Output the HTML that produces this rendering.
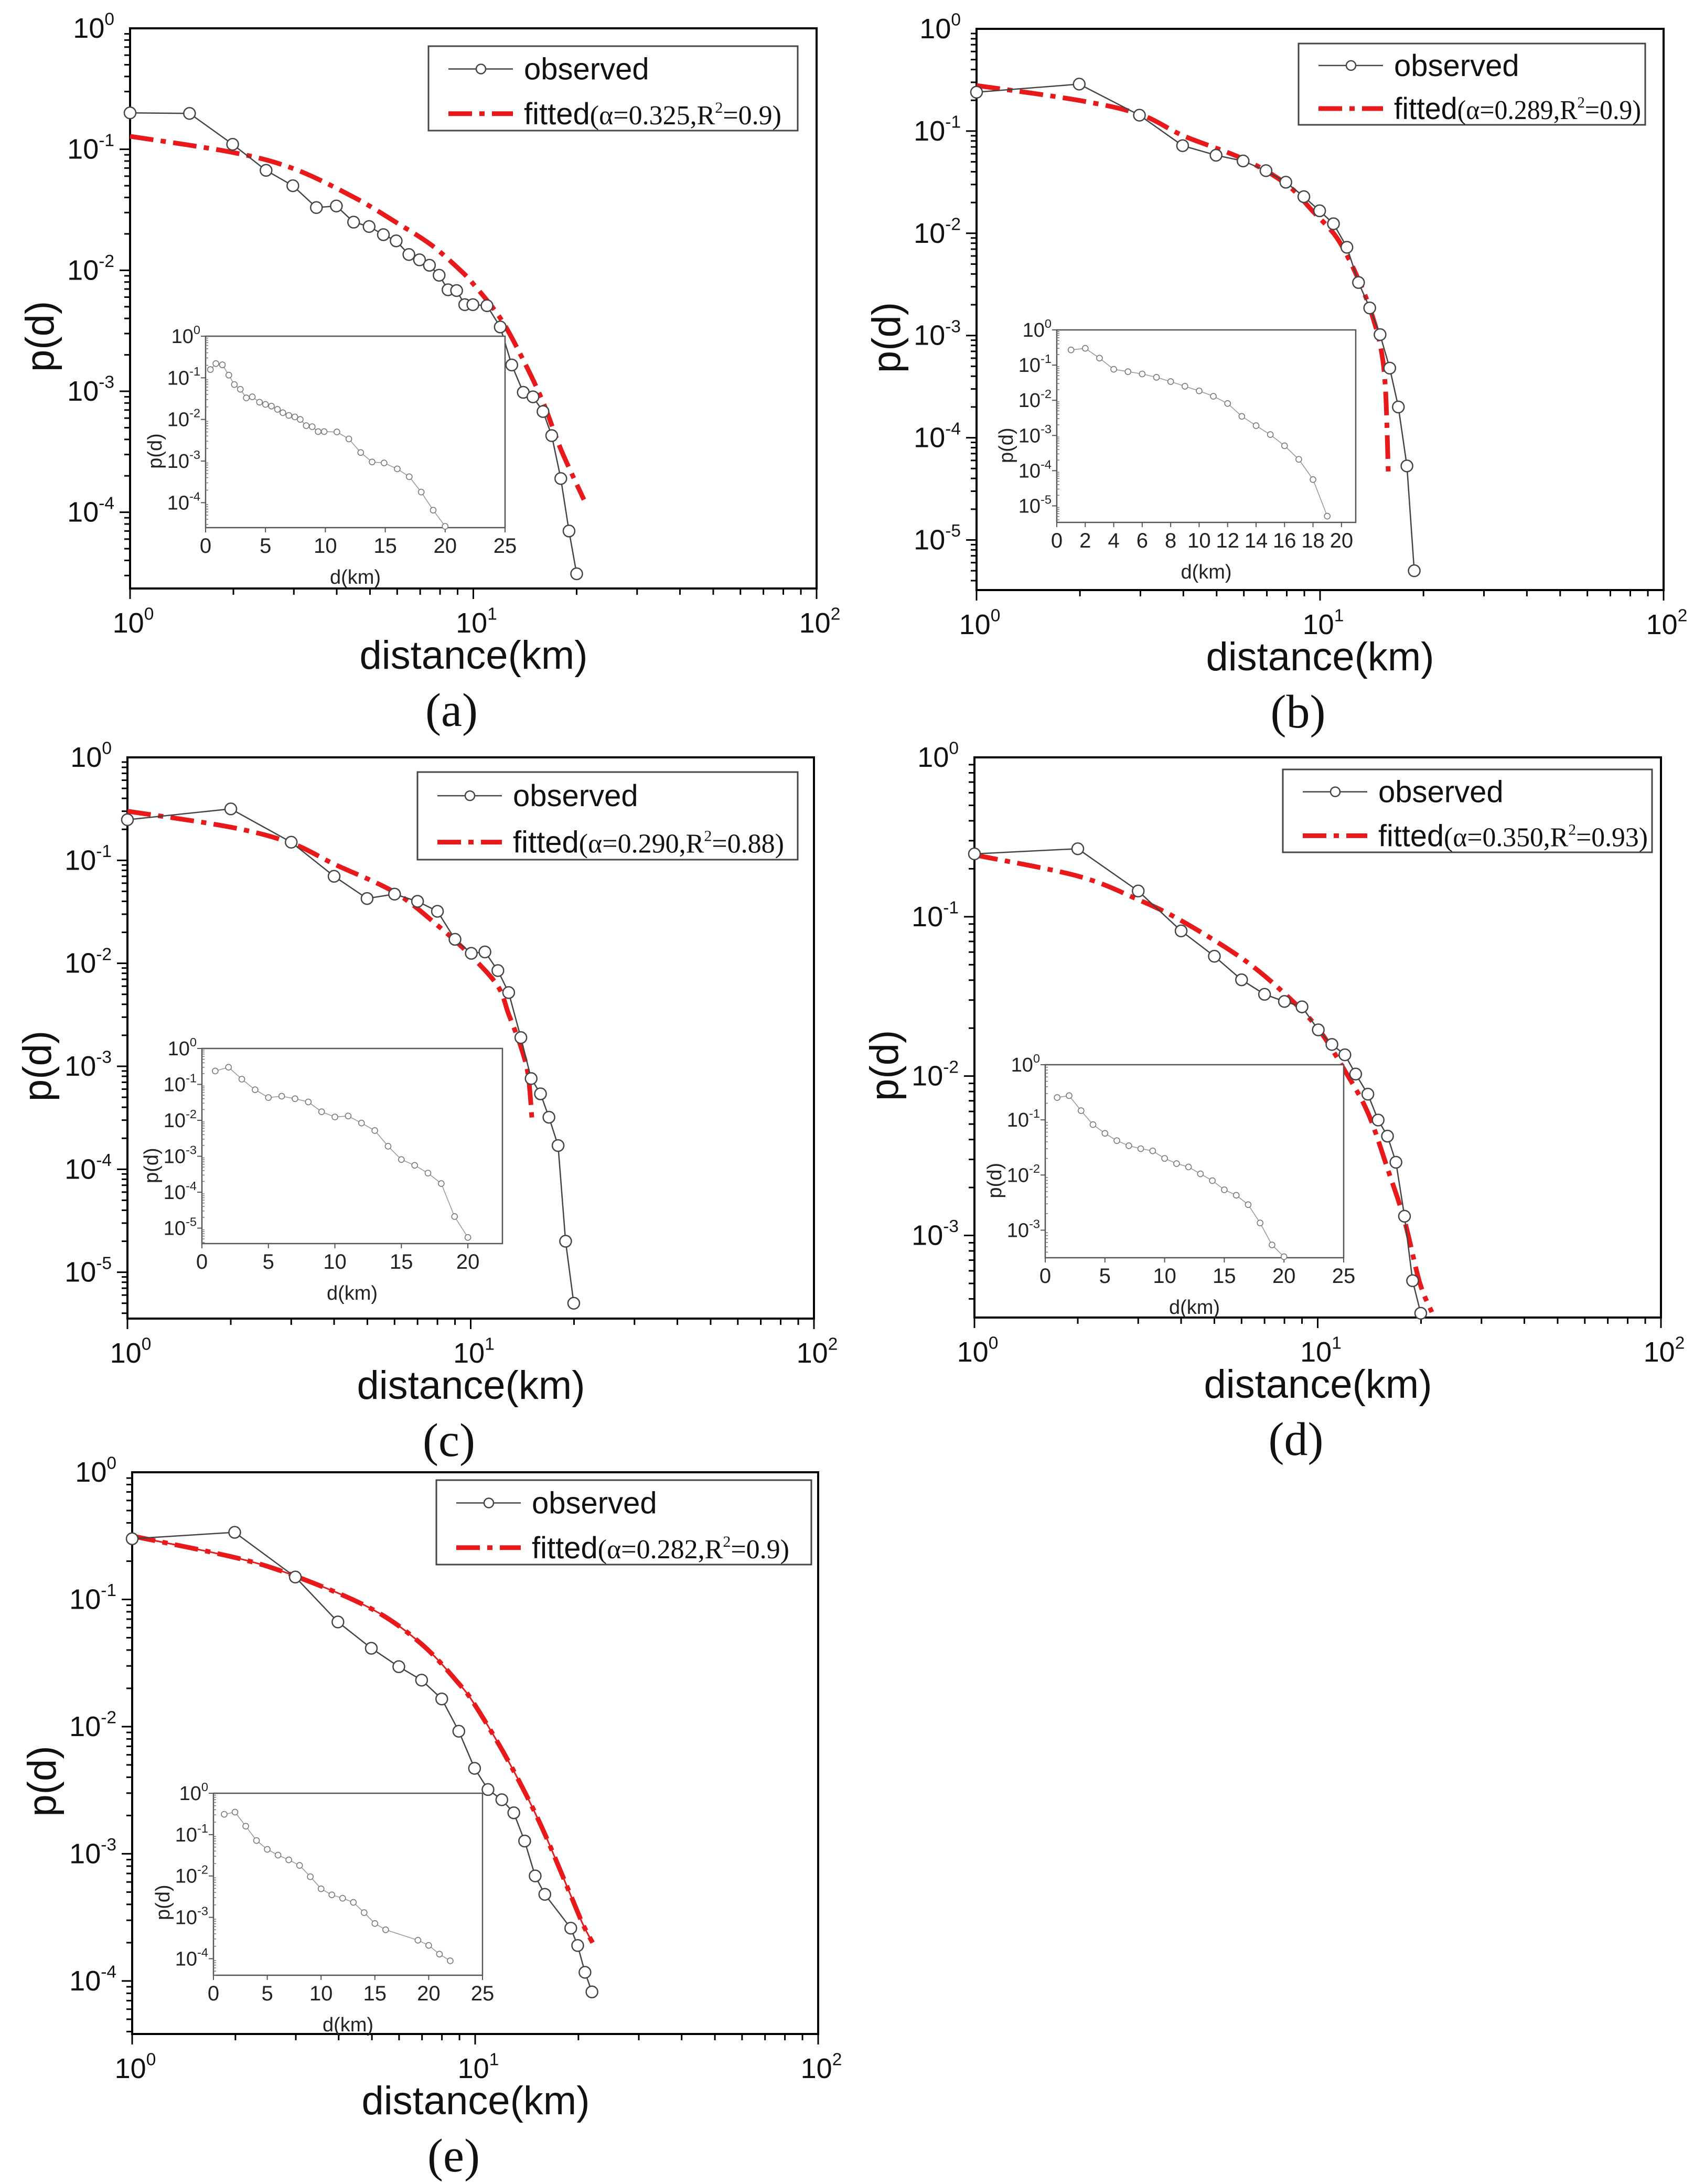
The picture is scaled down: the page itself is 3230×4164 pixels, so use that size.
<!DOCTYPE html>
<html><head><meta charset="utf-8"><style>
html,body{margin:0;padding:0;background:#fff;}
svg{display:block;}
</style></head><body>
<svg id="fig" width="3230" height="4164" viewBox="0 0 3230 4164" xmlns="http://www.w3.org/2000/svg"></svg>
<script>
// ---- data (per panel) ----
const obsXA=[1,1.49,1.99,2.49,2.98,3.49,3.99,4.48,4.97,5.47,5.96,6.49,6.97,7.45,7.95,8.44,8.94,9.44,9.97,10.96,11.98,12.94,13.98,14.92,15.96,16.92,17.98,19.0,20.0];
const obsYA=[0.2,0.198,0.11,0.067,0.05,0.033,0.034,0.025,0.023,0.0197,0.0175,0.0135,0.0122,0.011,0.0091,0.0069,0.0068,0.0052,0.0052,0.0051,0.0034,0.00165,0.00098,0.0009,0.00068,0.00043,0.00019,7e-5,3.1e-5];
const fitXA=[1,2,3,4.5,6,7.5,9,10,12,14,16,18,21];
const fitYA=[0.128,0.094,0.069,0.040,0.0246,0.0164,0.0105,0.0077,0.004,0.0018,0.0008,0.00033,0.000127];
const insXA=[0.4,0.86,1.4,1.94,2.4,2.9,3.4,3.9,4.5,5.0,5.5,6.0,6.45,6.95,7.45,7.9,8.4,8.9,9.4,9.9,10.96,11.96,12.95,13.9,14.9,16,17,18,19,20];
const insYA=[0.158,0.22,0.205,0.116,0.069,0.053,0.033,0.035,0.026,0.023,0.0209,0.0175,0.0145,0.0125,0.0115,0.01,0.0071,0.0067,0.0051,0.0051,0.005,0.0034,0.0016,0.00095,0.0009,0.00065,0.00042,0.00018,6.6e-5,2.7e-5];

const obsXB=[1,1.99,2.98,3.98,4.98,5.97,6.96,7.95,8.97,9.97,10.94,11.97,12.94,13.95,14.95,15.95,16.9,17.9,18.8];
const obsYB=[0.24,0.288,0.143,0.072,0.058,0.051,0.041,0.0316,0.0228,0.0166,0.0124,0.0073,0.0033,0.00186,0.00102,0.00048,0.0002,5.3e-5,5e-6];
const fitXB=[1,2,3,4,6,8,9.5,11,12,13,14,15,15.5,15.8];
const fitYB=[0.279,0.199,0.145,0.09,0.053,0.03,0.0166,0.0098,0.006,0.0034,0.0018,0.00078,0.0003,4.5e-5];
const insXB=[1,2,3,4,5,6,7,8,9,10,11,12,13,14,15,16,17,18,19];
const insYB=[0.27,0.30,0.158,0.076,0.065,0.056,0.045,0.034,0.025,0.0185,0.013,0.0081,0.0035,0.0019,0.00106,0.00051,0.00021,5.6e-5,5.1e-6];

const obsXC=[1,2,3,4,4.99,6,7,8,9,10.04,11,12,12.9,14,15,15.97,16.9,17.97,18.9,19.96];
const obsYC=[0.248,0.316,0.15,0.07,0.0426,0.047,0.04,0.032,0.0171,0.0125,0.0129,0.0085,0.0052,0.0019,0.00076,0.00054,0.00032,0.00017,2e-5,5e-6];
const fitXC=[1,2,3,4,6,8,10,12,12.9,14,14.7,15.1];
const fitYC=[0.30,0.21,0.147,0.092,0.049,0.0234,0.0119,0.006,0.0032,0.00155,0.00082,0.00029];
const insXC=[1,2,3,4,5,6,7,8,9,10,11,12,13,14,15,16,17,18,19,20];
const insYC=[0.236,0.30,0.14,0.071,0.043,0.047,0.040,0.0325,0.0173,0.0124,0.0132,0.0084,0.0052,0.0019,0.00081,0.00056,0.00034,0.000174,2.1e-5,5.5e-6];

const obsXD=[1,2,3,4,5,6,7,8,9,10.04,11,12,12.9,14,15,15.97,16.9,17.9,18.9,19.96];
const obsYD=[0.248,0.267,0.145,0.0815,0.0565,0.0402,0.0326,0.0294,0.0272,0.0195,0.0158,0.0136,0.0103,0.0077,0.0053,0.0042,0.00288,0.00132,0.00052,0.000325];
const fitXD=[1,2,3,4,6,8,10,12,14,16,17.9,19.8,21.5];
const fitYD=[0.244,0.18,0.128,0.0946,0.055,0.033,0.02,0.0108,0.0059,0.0026,0.00124,0.00051,0.00033];
const insXD=[1,2,3,4,5,6,7,8,9,10,11,12,13,14,15,16,17,18,19,20];
const insYD=[0.254,0.275,0.147,0.082,0.057,0.042,0.034,0.030,0.0274,0.02,0.0161,0.014,0.0105,0.0079,0.0054,0.0043,0.0029,0.00135,0.00054,0.00033];

const obsXE=[1,1.99,2.99,3.98,4.98,5.99,6.98,7.99,8.96,9.96,10.9,11.96,12.96,13.94,14.96,15.96,19.0,19.9,20.9,21.9];
const obsYE=[0.30,0.337,0.150,0.0665,0.0413,0.0296,0.0232,0.0165,0.0092,0.0047,0.0032,0.00266,0.0021,0.00126,0.00067,0.00048,0.00026,0.00019,0.000117,8.2e-5];
const fitXE=[1,2,3,5,7,9,10,12,14,16,19,20.6,22];
const fitYE=[0.315,0.213,0.152,0.084,0.0442,0.0215,0.0147,0.0065,0.003,0.00141,0.00047,0.00028,0.0002];
const insXE=[1,2,3,4,5,6,7,8,9,10,11,12,13,14,15,16,19,20,21,22];
const insYE=[0.31,0.35,0.16,0.072,0.044,0.032,0.0245,0.018,0.0096,0.0049,0.0035,0.0029,0.0023,0.0013,0.00071,0.0005,0.00028,0.00021,0.000129,8.9e-5];

const panelLetters=['a','b','c','d','e'];
const alphaTexts=['0.325','0.289','0.290','0.350','0.282'];
const r2Texts=['0.9','0.9','0.88','0.93','0.9'];
const mainYExps=[[0,-1,-2,-3,-4],[0,-1,-2,-3,-4,-5],[0,-1,-2,-3,-4,-5],[0,-1,-2,-3],[0,-1,-2,-3,-4]];
const mainXExps=[0,1,2];
const insYExps=[[0,-1,-2,-3,-4],[0,-1,-2,-3,-4,-5],[0,-1,-2,-3,-4,-5],[0,-1,-2,-3],[0,-1,-2,-3,-4]];
const insXTicks=[[0,5,10,15,20,25],[0,2,4,6,8,10,12,14,16,18,20],[0,5,10,15,20],[0,5,10,15,20,25],[0,5,10,15,20,25]];

// ---- layout (not data) ----
const L=[
 {box:[248,54,1309,1068],ybot:-4.63,ins:[392,641,571,365],ixmax:25,iybot:-4.6,leg:[817,88,704,161]},
 {box:[1862,55,1310,1070],ybot:-5.49,ins:[2015,629,570,367],ixmax:21,iybot:-5.47,leg:[2476,83,661,155]},
 {box:[243,1444,1309,1070],ybot:-5.45,ins:[385,1999,573,372],ixmax:22.6,iybot:-5.43,leg:[796,1472,725,167]},
 {box:[1858,1444,1309,1068],ybot:-3.515,ins:[1993,2030,569,368],ixmax:25,iybot:-3.5,leg:[2446,1467,704,158]},
 {box:[252,2807,1308,1071],ybot:-4.417,ins:[407,3419,513,347],ixmax:25,iybot:-4.4,leg:[832,2822,715,161]}
];
const series=[
 [obsXA,obsYA,fitXA,fitYA,insXA,insYA],
 [obsXB,obsYB,fitXB,fitYB,insXB,insYB],
 [obsXC,obsYC,fitXC,fitYC,insXC,insYC],
 [obsXD,obsYD,fitXD,fitYD,insXD,insYD],
 [obsXE,obsYE,fitXE,fitYE,insXE,insYE]
];

const NS='http://www.w3.org/2000/svg';
const svg=document.getElementById('fig');
function mk(tag,attrs,parent){const e=document.createElementNS(NS,tag);for(const k in attrs)e.setAttribute(k,attrs[k]);(parent||svg).appendChild(e);return e;}
const SANS='"Liberation Sans", Arial, sans-serif';
const SERIF='"Liberation Serif", "Times New Roman", serif';

function powLabel(g,x,y,exp,size,anchor){
  const t=mk('text',{x:x,y:y,'font-family':SANS,'font-size':size,'text-anchor':anchor,fill:'#111'},g);
  t.appendChild(document.createTextNode('10'));
  const s=mk('tspan',{dy:-size*0.45,'font-size':size*0.62},t);
  s.textContent=String(exp);
  return t;
}
function smoothPath(P){
  let d='M'+P[0][0].toFixed(1)+','+P[0][1].toFixed(1);
  for(let k=0;k<P.length-1;k++){
    const p0=P[Math.max(0,k-1)],p1=P[k],p2=P[k+1],p3=P[Math.min(P.length-1,k+2)];
    const c1=[p1[0]+(p2[0]-p0[0])/6,p1[1]+(p2[1]-p0[1])/6];
    const c2=[p2[0]-(p3[0]-p1[0])/6,p2[1]-(p3[1]-p1[1])/6];
    d+=' C'+c1[0].toFixed(1)+','+c1[1].toFixed(1)+' '+c2[0].toFixed(1)+','+c2[1].toFixed(1)+' '+p2[0].toFixed(1)+','+p2[1].toFixed(1);
  }
  return d;
}

series.forEach((S,i)=>{
  const cfg=L[i];
  const [bx,by,bw,bh]=cfg.box;
  const g=mk('g',{});
  
  
  const xs=v=>bx+Math.log10(v)/2*bw;
  const ys=v=>by+(-Math.log10(v))/(-cfg.ybot)*bh;
  const frame=mk('rect',{x:bx,y:by,width:bw,height:bh,fill:'none',stroke:'#000','stroke-width':4},g);
  
  
  for(let d=0;d>Math.floor(cfg.ybot)-1;d--){
    for(let k=1;k<10;k++){
      const v=k*Math.pow(10,d-1);
      const lv=Math.log10(v);
      if(lv>0.0001||lv<cfg.ybot)continue;
      const y=ys(v);
      mk('line',{x1:bx,x2:bx-(k===1?20:11),y1:y,y2:y,stroke:'#000','stroke-width':3},g);
    }
  }
  mainYExps[i].forEach(e=>{
    const y=ys(Math.pow(10,e));
    const t=powLabel(g,bx-30,y+18,e,54,'end');
    
    
  });
  for(let d=0;d<2;d++){for(let k=1;k<10;k++){const v=k*Math.pow(10,d);const x=xs(v);mk('line',{x1:x,x2:x,y1:by+bh,y2:by+bh+(k===1?20:12),stroke:'#000','stroke-width':3},g);}}
  mk('line',{x1:bx+bw,x2:bx+bw,y1:by+bh,y2:by+bh+20,stroke:'#000','stroke-width':3},g);
  mainXExps.forEach(e=>{
    const x=xs(Math.pow(10,e));
    const t=powLabel(g,x+6,by+bh+84,e,54,'middle');
    
    
  });
  const xt=mk('text',{x:bx+655,y:by+bh+153,'font-family':SANS,'font-size':76,'text-anchor':'middle',fill:'#111'},g);
  xt.textContent='distance(km)';
  
  
  const yt=mk('text',{x:0,y:0,'font-family':SANS,'font-size':76,'text-anchor':'middle',fill:'#111',transform:`translate(${bx-146},${by+bh*0.55}) rotate(-90)`},g);
  yt.textContent='p(d)';
  
  
  const pl=mk('text',{x:bx+613,y:by+bh+262,'font-family':SERIF,'font-size':90,'text-anchor':'middle',fill:'#111'},g);
  pl.textContent='('+panelLetters[i]+')';
  
  

  const [ox,oy,fx,fy,ix,iy]=S;
  const fP=fx.map((v,j)=>[xs(v),ys(fy[j])]);
  const fd=smoothPath(fP);
  if(i===4){const th=mk('path',{d:fd,fill:'none',stroke:'#e8191b','stroke-width':3},g);
    
    }
  const fl=mk('path',{d:fd,fill:'none',stroke:'#e8191b','stroke-width':9,'stroke-dasharray':'45 14 10 14'},g);
  
  
  const opts=ox.map((v,j)=>xs(v).toFixed(1)+','+ys(oy[j]).toFixed(1)).join(' ');
  const ol=mk('polyline',{points:opts,fill:'none',stroke:'#444','stroke-width':2.5},g);
  
  
  ox.forEach((v,j)=>{
    const c=mk('circle',{cx:xs(v),cy:ys(oy[j]),r:11,fill:'#fff',stroke:'#444','stroke-width':2.5},g);
    
    
  });

  const [ixx,iyy,iw,ih]=cfg.ins;
  const ig=mk('g',{},g);
  
  
  mk('rect',{x:ixx,y:iyy,width:iw,height:ih,fill:'#fff',stroke:'#555','stroke-width':2.5},ig);
  const ixs=v=>ixx+v/cfg.ixmax*iw;
  const iys=v=>iyy+(-Math.log10(v))/(-cfg.iybot)*ih;
  insYExps[i].forEach(e=>{
    const y=iys(Math.pow(10,e));
    mk('line',{x1:ixx,x2:ixx-9,y1:y,y2:y,stroke:'#555','stroke-width':2},ig);
    const t=powLabel(ig,ixx-10,y+13,e,38,'end');
    t.setAttribute('fill','#222');
    
    
  });
  for(let d=0;d>Math.floor(cfg.iybot)-1;d--){for(let k=2;k<10;k++){const v=k*Math.pow(10,d-1);const lv=Math.log10(v);if(lv<cfg.iybot)continue;const y=iys(v);mk('line',{x1:ixx,x2:ixx+5,y1:y,y2:y,stroke:'#777','stroke-width':1.5},ig);}}
  insXTicks[i].forEach(v=>{
    const x=ixs(v);
    mk('line',{x1:x,x2:x,y1:iyy+ih,y2:iyy+ih+9,stroke:'#555','stroke-width':2},ig);
    const t=mk('text',{x:x,y:iyy+ih+48,'font-family':SANS,'font-size':40,'text-anchor':'middle',fill:'#222'},ig);
    t.textContent=String(v);
    
    
  });
  const idl=mk('text',{x:ixx+iw/2,y:iyy+ih+107,'font-family':SANS,'font-size':38,'text-anchor':'middle',fill:'#222'},ig);
  idl.textContent='d(km)';
  
  
  const ipl=mk('text',{x:0,y:0,'font-family':SANS,'font-size':38,'text-anchor':'middle',fill:'#222',transform:`translate(${ixx-84},${iyy+ih*0.6}) rotate(-90)`},ig);
  ipl.textContent='p(d)';
  
  
  const ipts=ix.map((v,j)=>ixs(v).toFixed(1)+','+iys(iy[j]).toFixed(1)).join(' ');
  const il=mk('polyline',{points:ipts,fill:'none',stroke:'#999','stroke-width':1.6},ig);
  
  
  ix.forEach((v,j)=>{
    const c=mk('circle',{cx:ixs(v),cy:iys(iy[j]),r:5.5,fill:'#fff',stroke:'#777','stroke-width':1.6},ig);
    
    
  });

  const [lx,ly,lw,lh]=cfg.leg;
  const lg=mk('g',{},g);
  
  
  mk('rect',{x:lx,y:ly,width:lw,height:lh,fill:'#fff',stroke:'#444','stroke-width':3},lg);
  const r1=ly+lh*0.27, r2=ly+lh*0.8;
  const e1=mk('g',{},lg);
  
  
  mk('line',{x1:lx+38,x2:lx+161,y1:r1,y2:r1,stroke:'#444','stroke-width':2.5},e1);
  mk('circle',{cx:lx+100,cy:r1,r:9,fill:'#fff',stroke:'#444','stroke-width':2.5},e1);
  const t1=mk('text',{x:lx+182,y:r1+20,'font-family':SANS,'font-size':58,fill:'#111'},e1);
  t1.textContent='observed';
  const e2=mk('g',{},lg);
  
  
  mk('line',{x1:lx+38,x2:lx+161,y1:r2,y2:r2,stroke:'#e8191b','stroke-width':9,'stroke-dasharray':'45 14 10 14'},e2);
  const t2=mk('text',{x:lx+182,y:r2+20,'font-family':SANS,'font-size':58,fill:'#111'},e2);
  t2.appendChild(document.createTextNode('fitted'));
  const sp=mk('tspan',{'font-family':SERIF,'font-size':52},t2);
  sp.appendChild(document.createTextNode('(\u03B1='+alphaTexts[i]+',R'));
  const sup=mk('tspan',{dy:-22,'font-size':30},sp);
  sup.textContent='2';
  const rest=mk('tspan',{dy:22},sp);
  rest.textContent='='+r2Texts[i]+')';
  // fit legend text within box
  const maxW=lw-190;
  const bb=t2.getComputedTextLength ? t2.getComputedTextLength() : 0;
  if(bb>maxW){t2.setAttribute('textLength',maxW);t2.setAttribute('lengthAdjust','spacingAndGlyphs');}
});
</script>
</body></html>
